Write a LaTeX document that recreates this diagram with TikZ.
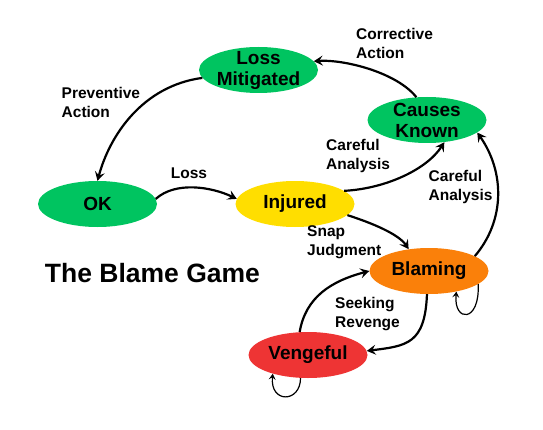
\documentclass[tikz,border=0pt]{standalone}
\usepackage{fontspec}
\setmainfont{Liberation Sans}
\usetikzlibrary{arrows.meta,shapes.geometric}
\definecolor{calmgreen}{RGB}{0,196,96}
\definecolor{hurtyellow}{RGB}{255,222,0}
\definecolor{blameorange}{RGB}{250,128,10}
\definecolor{revengered}{RGB}{238,52,52}

\begin{document}
\begin{tikzpicture}[x=1pt, y=1pt,
    status/.style={ellipse, minimum width=119pt, minimum height=46pt, inner xsep=0pt, inner ysep=-4pt, align=center, font=\fontsize{19}{21}\selectfont\bfseries},
    lbl/.style={anchor=west, align=left, inner sep=0pt, font=\fontsize{15.5}{19}\selectfont\bfseries},
    arr/.style={-{Stealth[length=9pt,width=10pt,inset=3.5pt]}, line width=2.2pt},
    selfarr/.style={-{Stealth[length=6pt,width=7pt,inset=2.5pt]}, line width=1.2pt}
]
\useasboundingbox (0,0) rectangle (543,429);

% states
\node[status, fill=calmgreen] (lm) at (258.5,359) {Loss\\Mitigated};
\node[status, fill=calmgreen] (ck) at (427,309) {Causes\\Known};
\node[status, fill=calmgreen] (ok) at (97.5,225) {OK};
\node[status, fill=hurtyellow] (inj) at (295,225) {Injured};
\node[status, fill=blameorange] (bl) at (429,158) {Blaming};
\node[status, fill=revengered] (ven) at (308,74) {Vengeful};

\node[font=\fontsize{26.5}{30}\selectfont\bfseries] (title) at (152.5,156) {The Blame Game};

% labels
\node[lbl] (prevlbl) at (61.5,326.5) {Preventive\\Action};
\node[lbl] (corrlbl) at (356,386) {Corrective\\Action};
\node[lbl, anchor=center] (losslbl) at (189,256) {Loss};
\node[lbl] (carelbl) at (326,273) {Careful\\Analysis};
\node[lbl] (carelblb) at (428.5,242) {Careful\\Analysis};
\node[lbl] (snaplbl) at (307,187) {Snap\\Judgment};
\node[lbl] (seeklbl) at (335,115) {Seeking\\Revenge};

% transitions
\draw[arr] (lm.188) .. controls +(-60,-8) and +(12,45) .. (ok.north);
\draw[arr] (ok.5) .. controls +(20,18) and +(-25,12) .. (inj.175);
\draw[arr] (inj.15) .. controls +(40,2) and +(-18,-28) .. (ck.-52);
\draw[arr] (ck.115) .. controls +(-20,25) and +(30,2) .. (lm.9);
\draw[arr] (inj.-12) .. controls +(25,-8) and +(-10,15) .. (bl.133);
\draw[arr] (bl.18) .. controls +(30,35) and +(28,-40) .. (ck.-14);
\draw[arr] (bl.-95) .. controls +(-2,-50) and +(40,5) .. (ven.4);
\draw[arr] (ven.110) .. controls +(6,35) and +(-38,-10) .. (bl.west);
\draw[selfarr] (bl.-15) .. controls +(2,-39) and +(-3,-31) .. (bl.-37);
\draw[selfarr] (ven.-108) .. controls +(0,-25) and +(-3,-30) .. (ven.-152);
\end{tikzpicture}
\end{document}
